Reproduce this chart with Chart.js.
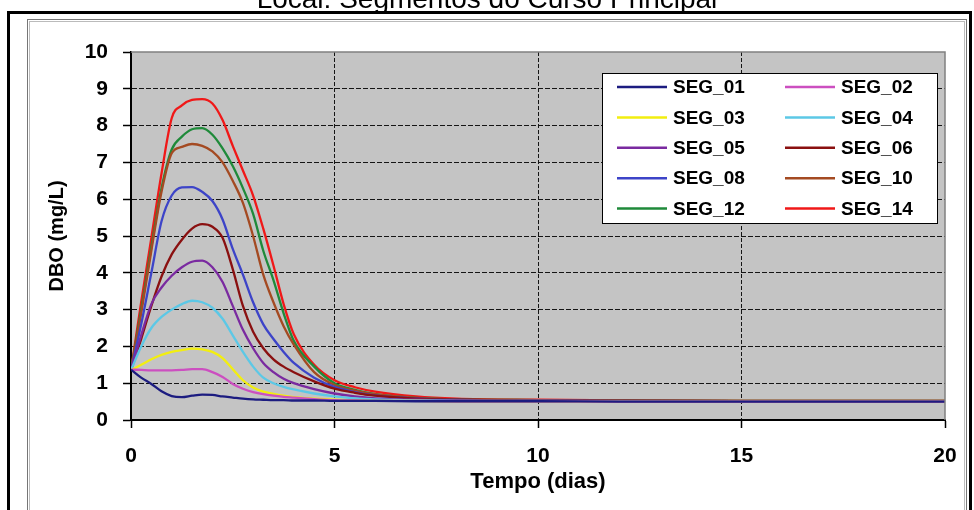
<!DOCTYPE html>
<html><head><meta charset="utf-8">
<script src="https://cdn.jsdelivr.net/npm/chart.js@4.4.1/dist/chart.umd.min.js"></script>
<style>html,body{margin:0;padding:0;background:#fff;overflow:hidden;} #wrap{width:974px;height:510px;position:relative;}</style>
</head><body><div id="wrap"><canvas id="c" width="974" height="510"></canvas></div>
<script>
const chartTitle = 'Local: Segmentos do Curso Principal';
const xTitle = 'Tempo (dias)';
const yTitle = 'DBO (mg/L)';
const xTickValues = [0, 5, 10, 15, 20];
const yTickValues = [0, 1, 2, 3, 4, 5, 6, 7, 8, 9, 10];
const days  = [0, 0.25, 0.5, 0.75, 1, 1.25, 1.5, 1.75, 2, 2.25, 2.5, 2.75, 3, 3.25, 3.5, 3.75, 4, 4.5, 5, 5.5, 6, 7, 8, 10, 12, 15, 20];
const seg01 = [1.37, 1.15, 0.98, 0.78, 0.65, 0.62, 0.66, 0.69, 0.68, 0.64, 0.61, 0.58, 0.56, 0.55, 0.54, 0.54, 0.53, 0.53, 0.52, 0.52, 0.52, 0.51, 0.51, 0.51, 0.50, 0.50, 0.50];
const seg02 = [1.37, 1.36, 1.35, 1.35, 1.35, 1.36, 1.38, 1.38, 1.30, 1.17, 0.98, 0.85, 0.76, 0.70, 0.66, 0.63, 0.61, 0.57, 0.54, 0.53, 0.52, 0.52, 0.51, 0.51, 0.50, 0.50, 0.50];
const seg03 = [1.35, 1.50, 1.65, 1.77, 1.85, 1.90, 1.94, 1.92, 1.85, 1.68, 1.38, 1.08, 0.88, 0.77, 0.71, 0.66, 0.62, 0.58, 0.55, 0.53, 0.52, 0.52, 0.51, 0.51, 0.50, 0.50, 0.50];
const seg04 = [1.35, 2.00, 2.50, 2.80, 3.00, 3.15, 3.24, 3.20, 3.05, 2.75, 2.30, 1.85, 1.45, 1.15, 1.00, 0.90, 0.83, 0.72, 0.64, 0.59, 0.56, 0.53, 0.52, 0.52, 0.51, 0.50, 0.50];
const seg05 = [1.35, 2.30, 3.15, 3.60, 3.92, 4.15, 4.30, 4.33, 4.15, 3.75, 3.10, 2.45, 1.95, 1.55, 1.30, 1.12, 1.00, 0.84, 0.72, 0.64, 0.59, 0.55, 0.53, 0.52, 0.51, 0.50, 0.50];
const seg06 = [1.35, 2.20, 3.10, 3.90, 4.50, 4.90, 5.20, 5.32, 5.25, 4.95, 4.10, 3.10, 2.40, 1.95, 1.65, 1.45, 1.30, 1.05, 0.85, 0.74, 0.66, 0.58, 0.55, 0.53, 0.52, 0.51, 0.50];
const seg08 = [1.35, 2.60, 4.00, 5.40, 6.10, 6.32, 6.33, 6.20, 5.95, 5.45, 4.65, 3.95, 3.20, 2.60, 2.20, 1.85, 1.55, 1.15, 0.90, 0.76, 0.67, 0.59, 0.55, 0.53, 0.52, 0.51, 0.50];
const seg10 = [1.35, 2.90, 4.60, 6.20, 7.25, 7.42, 7.50, 7.45, 7.30, 7.00, 6.50, 5.90, 5.00, 3.95, 3.20, 2.55, 2.05, 1.30, 0.95, 0.80, 0.70, 0.60, 0.56, 0.54, 0.53, 0.52, 0.52];
const seg12 = [1.35, 3.00, 4.70, 6.30, 7.35, 7.70, 7.90, 7.93, 7.75, 7.38, 6.90, 6.30, 5.60, 4.60, 3.80, 2.90, 2.15, 1.45, 1.00, 0.82, 0.70, 0.60, 0.56, 0.54, 0.53, 0.52, 0.52];
const seg14 = [1.35, 3.20, 4.95, 6.70, 8.20, 8.55, 8.70, 8.72, 8.60, 8.15, 7.45, 6.78, 6.10, 5.20, 4.20, 3.15, 2.33, 1.50, 1.08, 0.89, 0.77, 0.64, 0.58, 0.55, 0.53, 0.52, 0.52];
const seriesNames  = ['SEG_01', 'SEG_02', 'SEG_03', 'SEG_04', 'SEG_05', 'SEG_06', 'SEG_08', 'SEG_10', 'SEG_12', 'SEG_14'];
const seriesValues = [seg01, seg02, seg03, seg04, seg05, seg06, seg08, seg10, seg12, seg14];
const seriesColors = ['#1c1c80', '#cc4fc0', '#f2ee10', '#5cc8e6', '#7a2aa0', '#8a1010', '#3d44c8', '#a44a22', '#1f8a3a', '#f01818'];

const FONT = '"Liberation Sans", Arial, sans-serif';
Chart.defaults.font.family = FONT;
Chart.defaults.color = '#000';

const decorPlugin = {
  id: 'decor',
  beforeDraw(chart) {
    const {ctx, chartArea: a, width, height} = chart;
    ctx.save();
    ctx.fillStyle = '#fff';
    ctx.fillRect(0, 0, width, height);
    ctx.strokeStyle = '#000'; ctx.lineWidth = 3;
    ctx.strokeRect(8.5, 12.5, 962, height + 20);
    ctx.lineWidth = 1;
    ctx.strokeStyle = '#777'; ctx.strokeRect(27.5, 19.5, 939, height + 20);
    ctx.strokeStyle = '#bbb'; ctx.strokeRect(29.5, 21.5, 935, height + 20);
    ctx.fillStyle = '#000';
    ctx.font = '28px ' + FONT;
    ctx.textAlign = 'center'; ctx.textBaseline = 'alphabetic';
    ctx.fillText(chartTitle, width / 2, 8);
    ctx.fillStyle = '#c4c4c4';
    ctx.fillRect(a.left, a.top, a.right - a.left, a.bottom - a.top);
    ctx.restore();
  },
  afterDatasetsDraw(chart) {
    const {ctx, chartArea: a} = chart;
    ctx.save();
    ctx.strokeStyle = '#808080'; ctx.lineWidth = 1.5;
    ctx.beginPath();
    ctx.moveTo(a.left, a.top); ctx.lineTo(a.right, a.top); ctx.lineTo(a.right, a.bottom);
    ctx.stroke();
    const bx = a.right - 343, by = a.top + 21, bw = 335, bh = 150;
    ctx.fillStyle = '#fff'; ctx.fillRect(bx, by, bw, bh);
    ctx.strokeStyle = '#000'; ctx.lineWidth = 1; ctx.strokeRect(bx + 0.5, by + 0.5, bw, bh);
    ctx.font = 'bold 19px ' + FONT;
    ctx.textBaseline = 'middle'; ctx.textAlign = 'left';
    chart.data.datasets.forEach((ds, i) => {
      const col = i % 2, row = Math.floor(i / 2);
      const x0 = bx + 15 + col * 168;
      const y = by + 14 + row * 30.4;
      ctx.strokeStyle = ds.borderColor; ctx.lineWidth = 2.5;
      ctx.beginPath(); ctx.moveTo(x0, y); ctx.lineTo(x0 + 50, y); ctx.stroke();
      ctx.fillStyle = '#000';
      ctx.fillText(ds.label, x0 + 56, y + 1);
    });
    ctx.restore();
  }
};

const datasets = seriesNames.map((name, i) => ({
  label: name,
  data: days.map((d, j) => ({x: d, y: seriesValues[i][j]})),
  borderColor: seriesColors[i],
  backgroundColor: seriesColors[i],
  borderWidth: 2.3,
  pointRadius: 0,
  fill: false,
  cubicInterpolationMode: 'monotone'
}));

new Chart(document.getElementById('c'), {
  type: 'line',
  data: {datasets},
  plugins: [decorPlugin],
  options: {
    responsive: false,
    animation: false,
    devicePixelRatio: 1,
    layout: {padding: {left: 0, right: 29, top: 52, bottom: 0}},
    plugins: {legend: {display: false}, tooltip: {enabled: false}, title: {display: false}},
    scales: {
      x: {
        type: 'linear', min: 0, max: 20,
        afterBuildTicks: s => { s.ticks = xTickValues.map(v => ({value: v})); },
        afterFit: s => { s.height = 90; },
        grid: {
          color: c => (c.tick && (c.tick.value === 0 || c.tick.value === 20)) ? 'rgba(0,0,0,0)' : '#151515',
          lineWidth: 1, tickColor: '#000', tickLength: 8, tickWidth: 1.5, tickBorderDash: []
        },
        border: {display: true, color: '#000', width: 2, dash: [4, 2]},
        ticks: {color: '#000', font: {size: 21, weight: 'bold'}, padding: 16, maxRotation: 0, autoSkip: false},
        title: {display: true, text: xTitle, color: '#000', font: {size: 22, weight: 'bold'}, padding: {top: 4, bottom: 15}}
      },
      y: {
        type: 'linear', min: 0, max: 10,
        afterBuildTicks: s => { s.ticks = yTickValues.map(v => ({value: v})); },
        afterFit: s => { s.width = 131; },
        grid: {
          color: c => (c.tick && (c.tick.value === 0 || c.tick.value === 10)) ? 'rgba(0,0,0,0)' : '#151515',
          lineWidth: 1, tickColor: '#000', tickLength: 8, tickWidth: 1.5, tickBorderDash: []
        },
        border: {display: true, color: '#000', width: 2, dash: [5, 2]},
        ticks: {color: '#000', font: {size: 21, weight: 'bold'}, padding: 15},
        title: {display: true, text: yTitle, color: '#000', font: {size: 20, weight: 'bold'}, padding: {top: 45, bottom: 0}}
      }
    }
  }
});
</script>
</body></html>
